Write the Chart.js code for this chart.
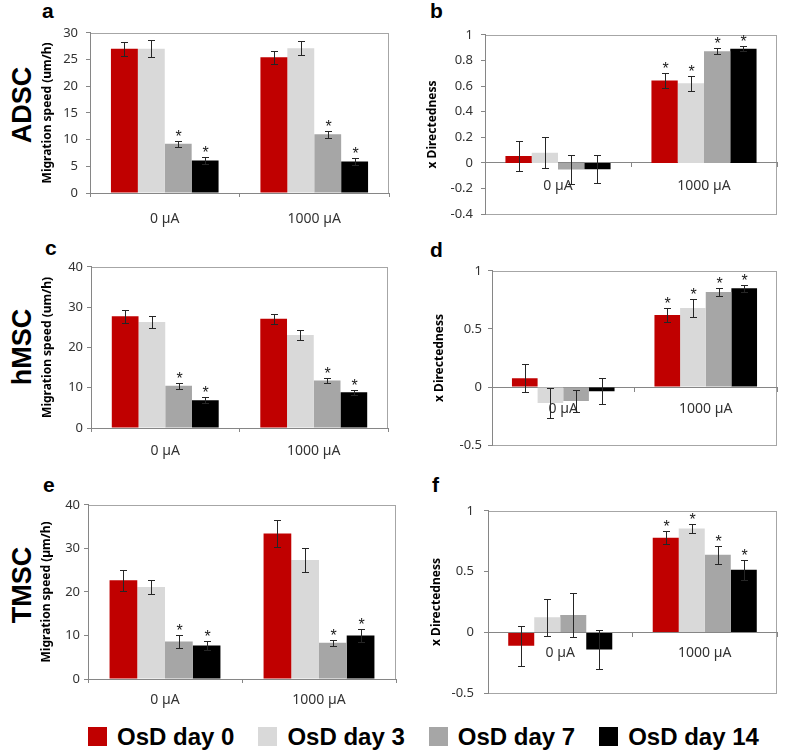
<!DOCTYPE html>
<html>
<head>
<meta charset="utf-8">
<script src="https://cdn.jsdelivr.net/npm/chart.js@4.4.1/dist/chart.umd.min.js"></script>
<style>
  html, body { margin: 0; padding: 0; background: #ffffff; }
  #page { position: relative; width: 787px; height: 751px; overflow: hidden; background: #ffffff; }
  canvas { position: absolute; }
  .letter { position: absolute; font: bold 21px 'Liberation Sans', Arial, sans-serif; line-height: 21px; color: #000; }
  .row { position: absolute; width: 120px; height: 30px; line-height: 30px; text-align: center;
         font: bold 27px 'Liberation Sans', Arial, sans-serif; color: #000; transform: rotate(-90deg); }
  #legend { position: absolute; left: 88px; top: 727px; display: flex; align-items: center; }
  #legend .sw { width: 19px; height: 19px; margin-right: 10px; }
  #legend .tx { font: bold 24px 'Liberation Sans', Arial, sans-serif; color: #000; margin-right: 24px; line-height: 19px; }
</style>
</head>
<body>
<div id="page">
  <div class="row" style="left:-38px; top:90px;">ADSC</div>
  <div class="row" style="left:-38px; top:332px;">hMSC</div>
  <div class="row" style="left:-38px; top:570px;">TMSC</div>
  <div class="letter" style="left:42px; top:0px;">a</div>
  <div class="letter" style="left:430px; top:0px;">b</div>
  <div class="letter" style="left:45px; top:237px;">c</div>
  <div class="letter" style="left:430px; top:239px;">d</div>
  <div class="letter" style="left:43px; top:474px;">e</div>
  <div class="letter" style="left:432px; top:474px;">f</div>
  <div id="legend"></div>
</div>
<script>
// categories and series
const categories = ['0 µA', '1000 µA'];
const seriesNames = ['OsD day 0', 'OsD day 3', 'OsD day 7', 'OsD day 14'];
const seriesColors = ['#c00000', '#d9d9d9', '#a6a6a6', '#000000'];

// one row per series: [0 µA, 1000 µA]
const adscSpeed    = [[27.0, 25.4], [27.0, 27.1], [9.2, 11.0], [6.1, 5.9]];
const adscSpeedErr = [[1.35, 1.2], [1.6, 1.3], [0.55, 0.7], [0.6, 0.6]];
const adscDir      = [[0.054, 0.644], [0.079, 0.622], [-0.052, 0.872], [-0.049, 0.892]];
const adscDirErr   = [[0.117, 0.061], [0.12, 0.06], [0.115, 0.022], [0.11, 0.02]];

const hmscSpeed    = [[27.7, 27.1], [26.3, 23.1], [10.5, 11.8], [6.9, 8.9]];
const hmscSpeedErr = [[1.55, 1.2], [1.4, 1.25], [0.7, 0.65], [0.7, 0.65]];
const hmscDir      = [[0.075, 0.62], [-0.137, 0.68], [-0.12, 0.818], [-0.036, 0.849]];
const hmscDirErr   = [[0.12, 0.06], [0.13, 0.077], [0.095, 0.037], [0.11, 0.03]];

const tmscSpeed    = [[22.7, 33.4], [21.1, 27.3], [8.6, 8.3], [7.7, 10.0]];
const tmscSpeedErr = [[2.4, 3.1], [1.55, 2.7], [1.55, 0.75], [1.1, 1.45]];
const tmscDir      = [[-0.11, 0.778], [0.125, 0.855], [0.143, 0.638], [-0.14, 0.515]];
const tmscDirErr   = [[0.163, 0.055], [0.153, 0.035], [0.18, 0.073], [0.16, 0.082]];

// significance marks (*)
const speedStars = [[0, 0], [0, 0], [1, 1], [1, 1]];
const dirStars   = [[0, 1], [0, 1], [0, 1], [0, 1]];

// y axis ranges: [min, max, step]
const speedRangeADSC = [0, 30, 5];
const speedRange = [0, 40, 10];
const dirRangeADSC = [-0.4, 1, 0.2];
const dirRange = [-0.5, 1, 0.5];

Chart.defaults.font.family = "'Noto Sans', 'Open Sans', sans-serif";
Chart.defaults.color = '#333333';

const frame = {
    id: 'frame',
    beforeDraw(chart) {
        const { ctx, chartArea: a } = chart;
        ctx.save();
        ctx.strokeStyle = '#a6a6a6';
        ctx.lineWidth = 1;
        ctx.strokeRect(Math.round(a.left) + 0.5, Math.round(a.top) + 0.5,
            Math.round(a.right - a.left) - 1, Math.round(a.bottom - a.top));
        ctx.restore();
    }
};

const errorBars = {
    id: 'errorBars',
    afterDatasetsDraw(chart) {
        const ctx = chart.ctx;
        const y = chart.scales.y;
        chart.data.datasets.forEach((ds, i) => {
            chart.getDatasetMeta(i).data.forEach((bar, j) => {
                const v = ds.data[j], e = ds.errors[j];
                const top = Math.round(y.getPixelForValue(v + e)) + 0.5;
                const bot = Math.round(y.getPixelForValue(v - e)) + 0.5;
                const x = Math.round(bar.x) + 0.5;
                ctx.save();
                ctx.strokeStyle = '#262626';
                ctx.lineWidth = 1;
                ctx.beginPath();
                ctx.moveTo(x, top); ctx.lineTo(x, bot);
                ctx.moveTo(x - 3.5, top); ctx.lineTo(x + 3.5, top);
                ctx.moveTo(x - 3.5, bot); ctx.lineTo(x + 3.5, bot);
                ctx.stroke();
                if (ds.stars[j]) {
                    ctx.fillStyle = '#1a1a1a';
                    ctx.font = "16px 'Liberation Sans', Arial, sans-serif";
                    ctx.textAlign = 'center';
                    ctx.textBaseline = 'alphabetic';
                    ctx.fillText('*', x, top);
                }
                ctx.restore();
            });
        });
    }
};

const panels = [
    { L: 90, T: 27, R: 389, B: 193, titleX: 48, tickGap: 12, labelGap: 26, zero: false,
      range: speedRangeADSC, title: 'Migration speed (um/h)', vals: adscSpeed, errs: adscSpeedErr, stars: speedStars },
    { L: 485, T: 29, R: 777, B: 218, titleX: 433, tickGap: 12, labelGap: 23, zero: true,
      range: dirRangeADSC, title: 'x Directedness', vals: adscDir, errs: adscDirErr, stars: dirStars },
    { L: 91, T: 265, R: 388, B: 428, titleX: 48, tickGap: 8, labelGap: 23, zero: false,
      range: speedRange, title: 'Migration speed (um/h)', vals: hmscSpeed, errs: hmscSpeedErr, stars: speedStars },
    { L: 492, T: 267, R: 777, B: 447, titleX: 440, tickGap: 10, labelGap: 22, zero: true,
      range: dirRange, title: 'x Directedness', vals: hmscDir, errs: hmscDirErr, stars: dirStars },
    { L: 88, T: 503, R: 396, B: 679, titleX: 47, tickGap: 8, labelGap: 21, zero: false,
      range: speedRange, title: 'Migration speed (µm/h)', vals: tmscSpeed, errs: tmscSpeedErr, stars: speedStars },
    { L: 488, T: 503, R: 777, B: 699, titleX: 437, tickGap: 14, labelGap: 21, zero: true,
      range: dirRange, title: 'x Directedness', vals: tmscDir, errs: tmscDirErr, stars: dirStars }
];

const page = document.getElementById('page');

panels.forEach(p => {
    const cx = Math.round(p.titleX - 9);
    const cy = p.T - 10;
    const w = p.R + 8 - cx;
    const h = (p.zero ? p.B + 12 : p.B + 40) - cy;
    const canvas = document.createElement('canvas');
    canvas.width = w; canvas.height = h;
    canvas.style.left = cx + 'px'; canvas.style.top = cy + 'px';
    canvas.style.width = w + 'px'; canvas.style.height = h + 'px';
    page.appendChild(canvas);

    const tl = 4;
    new Chart(canvas.getContext('2d'), {
        type: 'bar',
        data: {
            labels: categories,
            datasets: seriesNames.map((name, i) => ({
                label: name,
                data: p.vals[i],
                errors: p.errs[i],
                stars: p.stars[i],
                backgroundColor: seriesColors[i],
                borderWidth: 0,
                categoryPercentage: 0.72,
                barPercentage: 1.0
            }))
        },
        options: {
            responsive: false,
            animation: false,
            devicePixelRatio: 1,
            layout: { padding: { top: 10, right: 8, left: 0, bottom: p.zero ? 12 : 0 } },
            plugins: { legend: { display: false }, tooltip: { enabled: false } },
            scales: {
                x: {
                    position: p.zero ? { y: 0 } : 'bottom',
                    afterFit: s => { s.height = p.zero ? 0 : 40; },
                    grid: { display: true, offset: true, drawOnChartArea: false, tickLength: tl, tickColor: '#868686' },
                    border: { display: true, color: '#868686' },
                    ticks: { color: '#333333', font: { size: 14 }, padding: p.labelGap - tl - 8.4,
                              maxRotation: 0, autoSkip: false }
                },
                y: {
                    min: p.range[0], max: p.range[1],
                    afterFit: s => { s.width = p.L - cx; },
                    grid: { display: true, drawOnChartArea: false, tickLength: tl, tickColor: '#868686' },
                    border: { display: true, color: '#868686' },
                    ticks: { stepSize: p.range[2], color: '#333333', font: { size: 13 }, padding: p.tickGap - tl,
                              callback: v => String(Math.round(v * 100) / 100) },
                    title: { display: true, text: p.title, color: '#000000',
                             font: { size: 12, weight: 'bold' }, padding: { top: p.titleX - cx - 7.2, bottom: 0 } }
                }
            }
        },
        plugins: [frame, errorBars]
    });
});

// legend
const legend = document.getElementById('legend');
seriesNames.forEach((name, i) => {
    const sw = document.createElement('span');
    sw.className = 'sw';
    sw.style.background = seriesColors[i];
    const tx = document.createElement('span');
    tx.className = 'tx';
    tx.textContent = name;
    legend.appendChild(sw);
    legend.appendChild(tx);
});
</script>
</body>
</html>
